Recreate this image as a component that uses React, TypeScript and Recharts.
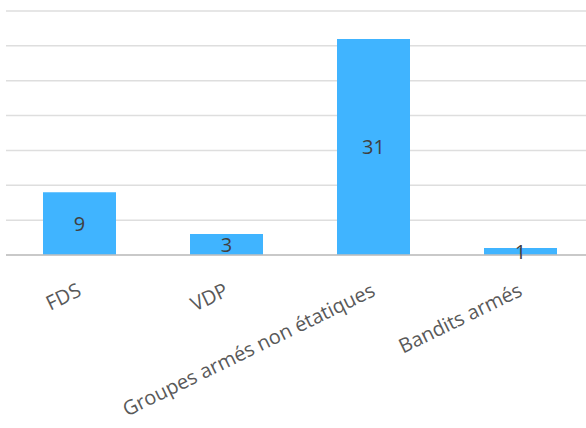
import React from "react";
import { BarChart, Bar, XAxis, YAxis, CartesianGrid, LabelList } from "recharts";

const categories = ["FDS", "VDP", "Groupes armés non étatiques", "Bandits armés"];
const values = [9, 3, 31, 1];
const yTicks = [0, 5, 10, 15, 20, 25, 30, 35];

const data = categories.map((c, i) => ({ name: c, value: values[i] }));

const FONT = "'Open Sans', sans-serif";

const RotTick = (props: any) => {
  const { x, y, payload } = props;
  return (
    <g transform={`translate(${x + 3},${y + 32})`}>
      <text
        x={0}
        y={0}
        textAnchor="end"
        transform="rotate(-26)"
        fill="#595959"
        fontSize={20}
        fontFamily={FONT}
      >
        {payload.value}
      </text>
    </g>
  );
};

export default function App() {
  return (
    <div style={{ position: "absolute", left: 0, top: 0, width: 586, height: 428, overflow: "hidden", background: "#fff" }}>
      <BarChart
        width={600}
        height={428}
        data={data}
        margin={{ top: 11, right: 6, bottom: 0, left: 6 }}
      >
        <CartesianGrid vertical={false} stroke="#dedede" strokeWidth={1.5} />
        <YAxis hide domain={[0, 35]} ticks={yTicks} />
        <XAxis
          dataKey="name"
          height={173}
          axisLine={{ stroke: "#bfbfbf", strokeWidth: 1.5 }}
          tickLine={false}
          tick={<RotTick />}
          interval={0}
        />
        <Bar dataKey="value" fill="#40B4FF" barSize={73} isAnimationActive={false}>
          <LabelList
            dataKey="value"
            position="center"
            fill="#404040"
            fontSize={20}
            fontFamily={FONT}
          />
        </Bar>
      </BarChart>
    </div>
  );
}
